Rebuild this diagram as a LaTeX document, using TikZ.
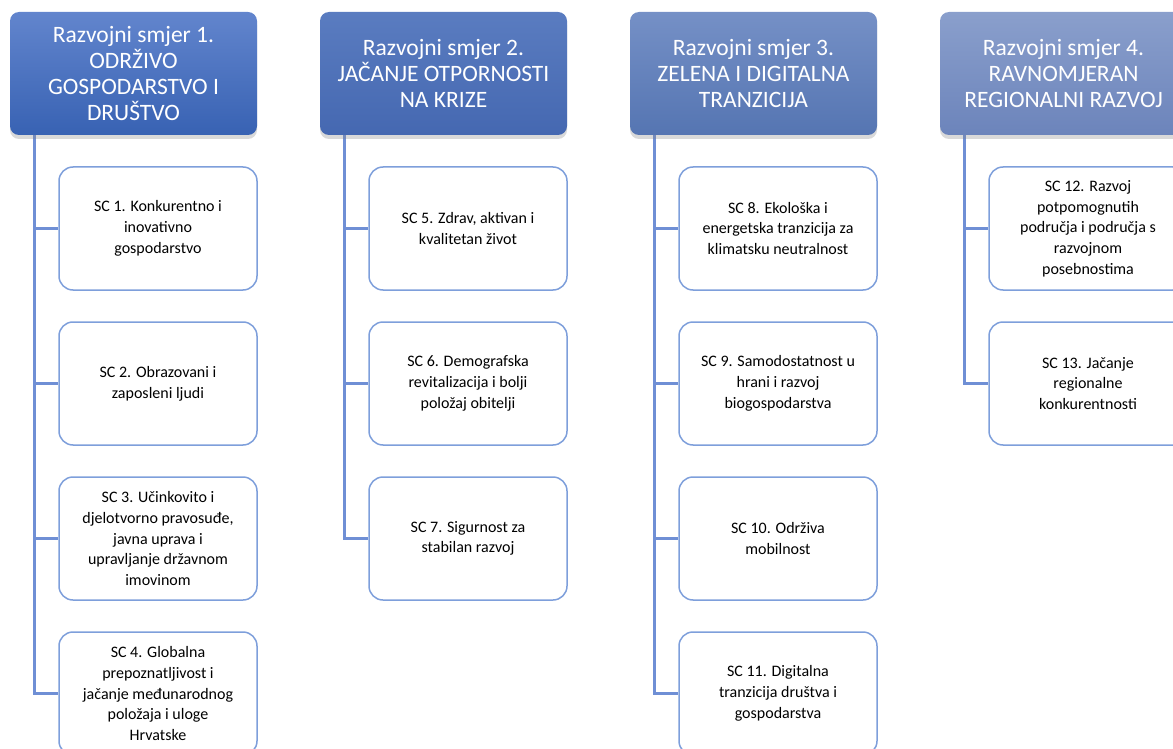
\documentclass[tikz,border=0pt]{standalone}
\usepackage{fontspec}
\setmainfont{Carlito}
\usetikzlibrary{shadows}
\definecolor{headtopA}{HTML}{6285CD}
\definecolor{headbotA}{HTML}{3862B3}
\definecolor{headtopB}{HTML}{5A7CC0}
\definecolor{headbotB}{HTML}{4568B1}
\definecolor{headtopC}{HTML}{7590C6}
\definecolor{headbotC}{HTML}{5575B2}
\definecolor{headtopD}{HTML}{8A9FCC}
\definecolor{headbotD}{HTML}{6C84BB}
\definecolor{linkblue}{HTML}{6F8FD5}
\definecolor{boxline}{HTML}{7E9FDB}
\tikzset{
  head/.style = {
    rounded corners=9pt, minimum width=247pt, minimum height=123pt,
    inner sep=0pt, align=center, text=white,
    font=\fontsize{23.5}{26}\selectfont,
    drop shadow={opacity=0.3, shadow xshift=0pt, shadow yshift=-4pt}
  },
  goal/.style = {
    draw=boxline, line width=1.5pt, fill=white, rounded corners=14pt,
    minimum width=198pt, minimum height=123pt, inner sep=0pt,
    align=center, font=\fontsize{16}{20.7}\selectfont
  },
  link/.style = {draw=linkblue, line width=3pt}
}

\begin{document}
\begin{tikzpicture}[x=1pt, y=-1pt]
  \useasboundingbox (0,0) rectangle (1173,749);
  \clip (0,0) rectangle (1173,749);

  % links first, boxes on top
  \coordinate (s1) at (34,135);
  \coordinate (s2) at (344,135);
  \coordinate (s3) at (654,135);
  \coordinate (s4) at (964,135);

  % column 1
  \node[goal] (c1) at (158,228.5) {SC 1. Konkurentno i\\inovativno\\gospodarstvo};
  \node[goal] (c2) at (158,383.5) {SC 2. Obrazovani i\\zaposleni ljudi};
  \node[goal] (c3) at (158,538.5) {SC 3. Učinkovito i\\djelotvorno pravosuđe,\\javna uprava i\\upravljanje državnom\\imovinom};
  \node[goal] (c4) at (158,693.5) {SC 4. Globalna\\prepoznatljivost i\\jačanje međunarodnog\\položaja i uloge\\Hrvatske};
  % column 2
  \node[goal] (c5) at (468,228.5) {SC 5. Zdrav, aktivan i\\kvalitetan život};
  \node[goal] (c6) at (468,383.5) {SC 6. Demografska\\revitalizacija i bolji\\položaj obitelji};
  \node[goal] (c7) at (468,538.5) {SC 7. Sigurnost za\\stabilan razvoj};
  % column 3
  \node[goal] (c8) at (778,228.5) {SC 8. Ekološka i\\energetska tranzicija za\\klimatsku neutralnost};
  \node[goal] (c9) at (778,383.5) {SC 9. Samodostatnost u\\hrani i razvoj\\biogospodarstva};
  \node[goal] (c10) at (778,538.5) {SC 10. Održiva\\mobilnost};
  \node[goal] (c11) at (778,693.5) {SC 11. Digitalna\\tranzicija društva i\\gospodarstva};
  % column 4
  \node[goal] (c12) at (1088,228.5) {SC 12. Razvoj\\potpomognutih\\područja i područja s\\razvojnom\\posebnostima};
  \node[goal] (c13) at (1088,383.5) {SC 13. Jačanje\\regionalne\\konkurentnosti};

  \foreach \c in {c1,c2,c3,c4} \draw[link] (s1) |- (\c.west);
  \foreach \c in {c5,c6,c7} \draw[link] (s2) |- (\c.west);
  \foreach \c in {c8,c9,c10,c11} \draw[link] (s3) |- (\c.west);
  \foreach \c in {c12,c13} \draw[link] (s4) |- (\c.west);

  % headers
  \node[head, top color=headtopA, bottom color=headbotA] (h1) at (133.5,73.5)
    {Razvojni smjer 1.\\ODRŽIVO\\GOSPODARSTVO I\\DRUŠTVO};
  \node[head, top color=headtopB, bottom color=headbotB] (h2) at (443.5,73.5)
    {Razvojni smjer 2.\\JAČANJE OTPORNOSTI\\NA KRIZE};
  \node[head, top color=headtopC, bottom color=headbotC] (h3) at (753.5,73.5)
    {Razvojni smjer 3.\\ZELENA I DIGITALNA\\TRANZICIJA};
  \node[head, top color=headtopD, bottom color=headbotD] (h4) at (1063.5,73.5)
    {Razvojni smjer 4.\\RAVNOMJERAN\\REGIONALNI RAZVOJ};
\end{tikzpicture}
\end{document}
